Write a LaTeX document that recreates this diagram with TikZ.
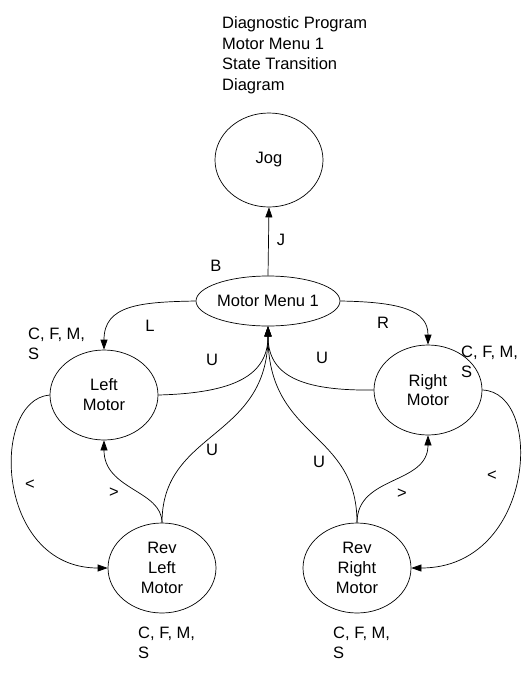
\documentclass[tikz,border=0pt]{standalone}
\usepackage{fontspec}
\setmainfont{Liberation Sans}
\usetikzlibrary{shapes.geometric,arrows.meta}
\tikzset{
  state/.style={ellipse,draw,line width=0.7pt,inner sep=0pt,align=center,
    minimum width=108pt,minimum height=90pt,font=\fontsize{16.5}{19.8}\selectfont},
  lbl/.style={inner sep=0pt,font=\fontsize{16.5}{20}\selectfont},
  multi/.style={lbl,align=left,anchor=west},
  conn/.style={line width=0.7pt,-{Triangle[length=10pt,width=7pt]}},
}
\begin{document}
\begin{tikzpicture}[x=1pt,y=-1pt]
\useasboundingbox[fill=white] (0,0) rectangle (531,673);

\node[multi,font=\fontsize{16.5}{20.5}\selectfont] (title) at (222,55) {Diagnostic Program\\Motor Menu 1\\State Transition\\Diagram};

\node[state,minimum width=108pt,minimum height=94pt] (jog) at (269,160) {Jog};
\node[state,minimum width=142pt,minimum height=50pt] (menu) at (268,301) {Motor Menu 1};
\node[state] (left) at (104,395) {Left\\Motor};
\node[state] (right) at (428,390) {Right\\Motor};
\node[state] (revleft) at (162,568) {Rev\\Left\\Motor};
\node[state] (revright) at (357,568) {Rev\\Right\\Motor};

% menu <-> jog
\draw[conn] (menu.north) -- (jog.south);
% menu -> left / right
\draw[conn] (menu.west) .. controls (140,302) and (104,305) .. (left.north);
\draw[conn] (menu.east) .. controls (400,302) and (428,310) .. (right.north);
% back to menu (U)
\draw[conn] (left.east) .. controls (235,393) and (268,375) .. (menu.south);
\draw[conn] (right.west) .. controls (300,391) and (268,375) .. (menu.south);
\draw[conn] (revleft.north) .. controls (162,430) and (268,440) .. (menu.south);
\draw[conn] (revright.north) .. controls (357,430) and (268,440) .. (menu.south);
% motor <-> rev motor
\draw[conn] (left.west) .. controls (-10,400) and (-5,568) .. (revleft.west);
\draw[conn] (revleft.north) .. controls (162,490) and (104,490) .. (left.south);
\draw[conn] (right.east) .. controls (545,392) and (535,568) .. (revright.east);
\draw[conn] (revright.north) .. controls (357,475) and (428,485) .. (right.south);

% edge labels
\node[lbl] (lJ) at (281,240) {J};
\node[lbl] (lB) at (216,266) {B};
\node[lbl] (lL) at (150,326) {L};
\node[lbl] (lR) at (383,323) {R};
\node[lbl] (lU1) at (212,360) {U};
\node[lbl] (lU2) at (322,358) {U};
\node[lbl] (lU3) at (212,450) {U};
\node[lbl] (lU4) at (319,462) {U};
\node[lbl] (lt1) at (30,485) {<};
\node[lbl] (lt2) at (114,493) {>};
\node[lbl] (lt3) at (402,494) {>};
\node[lbl] (lt4) at (492,476) {<};

\node[multi] (cl) at (28,344) {C, F, M,\\S};
\node[multi] (cr) at (461,362) {C, F, M,\\S};
\node[multi] (crl) at (138,643) {C, F, M,\\S};
\node[multi] (crr) at (333,643) {C, F, M,\\S};
\end{tikzpicture}
\end{document}
